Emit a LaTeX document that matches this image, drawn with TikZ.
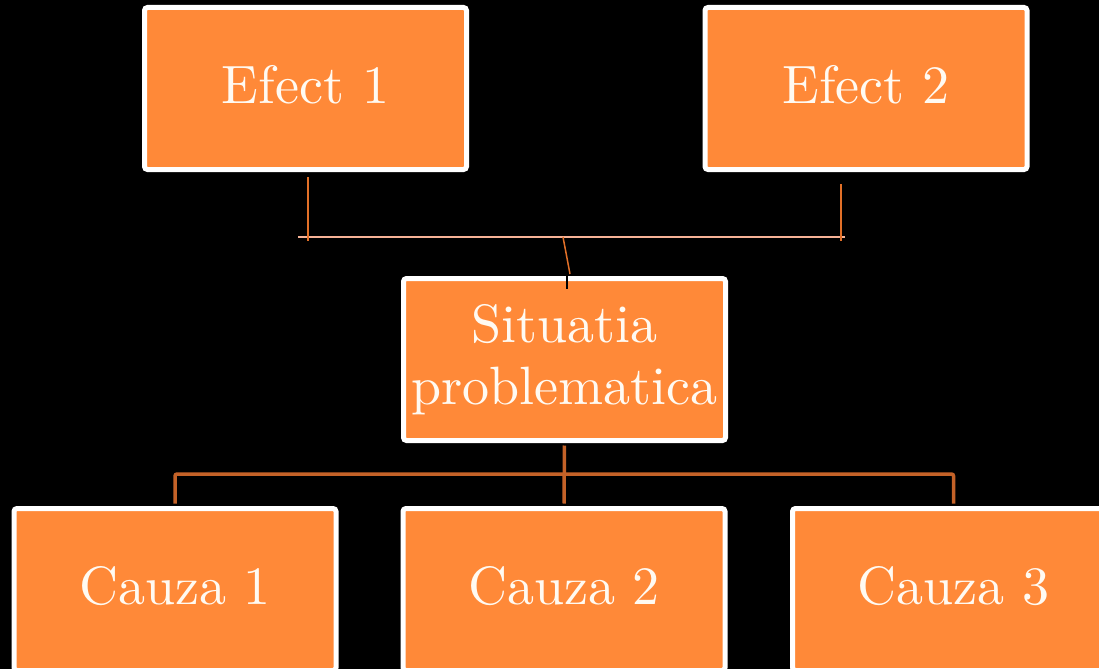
\documentclass[tikz,border=0pt]{standalone}
\usepackage{fontspec}
\setmainfont{lmroman10-regular}[Extension=.otf]
\definecolor{boxorange}{RGB}{255,137,56}
\definecolor{linkbrown}{RGB}{196,98,40}
\definecolor{linkorange}{RGB}{226,112,40}
\definecolor{linkpale}{RGB}{246,178,150}
\definecolor{textwhite}{RGB}{255,250,242}
\begin{document}
\begin{tikzpicture}[x=1pt,y=-1pt,
    itembox/.style={fill=boxorange,draw=white,line width=5pt,rounded corners=3pt,
        minimum width=322pt,minimum height=162pt,inner sep=0pt,text depth=8pt,
        text=textwhite,align=center,font=\fontsize{54}{62}\selectfont},
    thinlink/.style={linkorange,line width=1.5pt},
    thicklink/.style={linkbrown,line width=3.5pt,rounded corners=2pt}]
        % Draw black background
        \clip (0,0) rectangle (1099,669);
        \fill[black] (0,0) rectangle (1099,669);
        % Draw effect boxes
        \node[itembox] (efect1) at (305.5,88.5) {Efect 1};
        \node[itembox] (efect2) at (866,88.5) {Efect 2};
        % Draw problem box
        \node[itembox,text depth=11pt] (situatia) at (564.5,359.5) {Situatia\\problematica};
        % Draw cause boxes
        \node[itembox] (cauza1) at (175,589.5) {Cauza 1};
        \node[itembox] (cauza2) at (564,589.5) {Cauza 2};
        \node[itembox] (cauza3) at (953.5,589.5) {Cauza 3};
        % Draw thin links under effects
        \coordinate (busL) at (298,237);
        \coordinate (busR) at (845,237);
        \coordinate (busM) at (563,237);
        \coordinate (leg1) at (308,177);
        \coordinate (foot1) at (308,241);
        \coordinate (leg2) at (841,184);
        \coordinate (foot2) at (841,241);
        \coordinate (slantEnd) at (570,274);
        \coordinate (notchTop) at (567,276);
        \coordinate (notch) at (567,289);
        \draw[linkpale,line width=1.5pt] (busL) -- (busR);
        \draw[thinlink] (leg1) -- (foot1);
        \draw[thinlink] (leg2) -- (foot2);
        \draw[thinlink] (busM) -- (slantEnd);
        \draw[black,line width=1.5pt] (notchTop) -- (notch);
        % Draw thick links to causes
        \coordinate (busC) at (564,474);
        \draw[thicklink,shorten <=2.5pt,shorten >=2.5pt] (situatia.south) -- (cauza2.north);
        \draw[thicklink,shorten <=2.5pt,shorten >=2.5pt] (cauza1.north) |- (busC) -| (cauza3.north);
\end{tikzpicture}
\end{document}
